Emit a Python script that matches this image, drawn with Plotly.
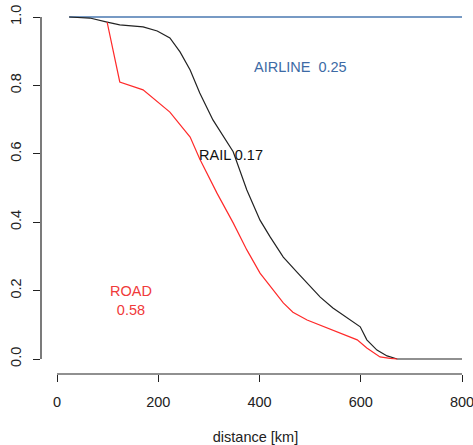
import plotly.graph_objects as go

# data
airline_x = [24, 800]
airline_y = [1.0, 1.0]

rail_x = [24, 65, 99, 124, 170, 198, 223, 243, 263, 282, 308, 336, 348, 375, 401, 421, 447, 474, 494, 520, 545, 573, 599, 612, 632, 652, 672, 800]
rail_y = [1.0, 0.997, 0.985, 0.977, 0.971, 0.959, 0.939, 0.898, 0.845, 0.778, 0.699, 0.632, 0.606, 0.494, 0.406, 0.357, 0.298, 0.254, 0.222, 0.181, 0.149, 0.12, 0.094, 0.056, 0.026, 0.009, 0.0, 0.0]

road_x = [99, 124, 170, 223, 263, 282, 316, 348, 375, 401, 447, 466, 494, 533, 559, 593, 612, 638, 658, 672]
road_y = [0.985, 0.81, 0.787, 0.722, 0.649, 0.585, 0.485, 0.398, 0.319, 0.251, 0.164, 0.137, 0.114, 0.091, 0.076, 0.056, 0.032, 0.006, 0.002, 0.0]

labels = ["AIRLINE  0.25", "RAIL 0.17", "ROAD<br>0.58"]
label_x = [480, 343, 146]
label_y = [0.855, 0.596, 0.17]
label_col = ["#3d6aa5", "#111111", "#f03a3a"]

x_ticks = [0, 200, 400, 600, 800]
y_ticks = [0.0, 0.2, 0.4, 0.6, 0.8, 1.0]

FONT = "Liberation Sans, Arial"
FS = 14.5

fig = go.Figure()
fig.add_trace(go.Scatter(x=airline_x, y=airline_y, mode="lines",
                         line=dict(color="#4a78b0", width=1.3)))
fig.add_trace(go.Scatter(x=rail_x, y=rail_y, mode="lines",
                         line=dict(color="#222222", width=1.2)))
fig.add_trace(go.Scatter(x=road_x, y=road_y, mode="lines",
                         line=dict(color="#ff2a2a", width=1.2)))

for t, x, y, c in zip(labels, label_x, label_y, label_col):
    fig.add_annotation(x=x, y=y, text=t, showarrow=False,
                       font=dict(family=FONT, size=FS, color=c),
                       xanchor="center", yanchor="middle")

# R-style detached axis lines
fig.add_shape(type="line", xref="x", yref="paper", x0=x_ticks[0], x1=x_ticks[-1], y0=0, y1=0,
              line=dict(color="#222222", width=1.2))
fig.add_shape(type="line", xref="paper", yref="y", x0=0, x1=0, y0=y_ticks[0], y1=y_ticks[-1],
              line=dict(color="#222222", width=1.2))

W, H = 473, 445
left, right, top, bottom = 41, 3, 5, 71
# x: 0 -> px57, 800 -> px462
sx = (462 - 57) / 800
x0 = (left - 57) / sx
x1 = (W - right - 57) / sx
# y: 1.0 -> px17, 0 -> px359
sy = 342
y1 = (359 - top) / sy
y0 = (359 - (H - bottom)) / sy

fig.update_layout(
    width=W, height=H,
    margin=dict(l=left, r=right, t=top, b=bottom, autoexpand=False),
    plot_bgcolor="white", paper_bgcolor="white",
    showlegend=False,
    font=dict(family=FONT, size=FS, color="#222222"),
    xaxis=dict(range=[x0, x1], tickvals=x_ticks, ticktext=[str(v) for v in x_ticks],
               showgrid=False, zeroline=False, showline=False, automargin=False,
               ticks="outside", ticklen=7, tickwidth=1.2, tickcolor="#222222",
               ticklabelstandoff=8, ticklabeloverflow="allow",
               title=dict(text="distance [km]", standoff=29, font=dict(size=FS))),
    yaxis=dict(range=[y0, y1], tickvals=y_ticks, ticktext=[f"{v:.1f}" for v in y_ticks],
               showgrid=False, zeroline=False, showline=False, automargin=False,
               ticks="outside", ticklen=7, tickwidth=1.2, tickcolor="#222222",
               tickangle=-90, ticklabelstandoff=6, ticklabeloverflow="allow"),
)

fig.write_html("out.html", config={"displayModeBar": False},
               post_script="document.body.style.margin='0';document.body.style.overflow='hidden';")
